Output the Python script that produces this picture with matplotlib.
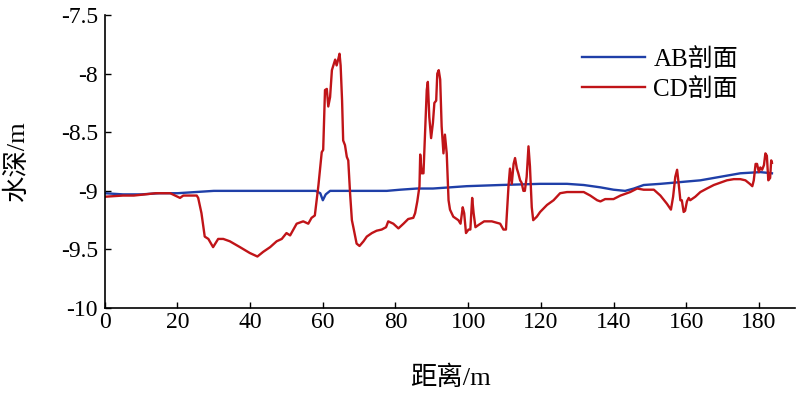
import matplotlib
matplotlib.use('Agg')
import matplotlib.pyplot as plt

plt.rcParams['font.family'] = ['Liberation Serif', 'Noto Sans CJK SC']
plt.rcParams['axes.unicode_minus'] = False

# AB剖面
ab_x = [0, 5, 10, 15, 20, 25, 30, 40, 50, 58, 59.3, 60, 60.8, 62, 67.5, 77.6,
        81.3, 85.9, 90.3, 99.6, 108.8, 119.8, 127.2, 131.8, 136.4, 140, 143.2,
        145.6, 148.3, 152.9, 156.6, 160.2, 163.9, 169.4, 174.9, 180.4, 183.6]
ab_y = [-9.02, -9.03, -9.03, -9.02, -9.02, -9.01, -9.0, -9.0, -9.0, -9.0, -9.02,
        -9.08, -9.03, -9.0, -9.0, -9.0, -8.99, -8.98, -8.98, -8.96, -8.95, -8.94,
        -8.94, -8.95, -8.97, -8.99, -9.0, -8.98, -8.95, -8.94, -8.93, -8.92, -8.91,
        -8.88, -8.85, -8.84, -8.85]

# CD剖面
cd_x = [0, 5, 8, 11, 14, 18, 20.7, 21.6, 25.3, 25.7, 26.6, 27.5, 28.5, 29.8,
        31.2, 32.6, 34.4, 37.2, 39.9, 42.0, 43.6, 45.5, 47.3, 48.7, 50, 51, 52.8,
        54.6, 56, 56.9, 57.8, 58.8, 59.7, 60.1, 60.6, 61.1, 61.5, 62, 62.5, 62.9,
        63.4, 63.8, 64.3, 64.6, 64.9, 65.3, 65.6, 66.1, 66.6, 67.0, 67.5, 68, 68.4,
        68.9, 69.3, 70.1, 71.2, 72.1, 73.5, 74.8, 76.2, 77.4, 78, 79.4, 80.8, 82.2,
        83.5, 84.9, 85.4, 86, 86.6, 86.8, 87.2, 87.7, 88.1, 88.6, 88.9, 89.3, 89.8,
        90.3, 90.7, 91.2, 91.5, 91.9, 92.3, 92.7, 93.2, 93.6, 94.1, 94.6, 95, 95.9,
        97.3, 97.9, 98.5, 98.9, 99.4, 100.1, 100.6, 101.1, 101.5, 102, 102.9, 104.4,
        106.5, 108.8, 109.7, 110.4, 111.1, 111.5, 112, 112.5, 112.9, 113.4, 113.8,
        114.3, 114.7, 115.2, 115.6, 116.1, 116.6, 117, 117.5, 117.9, 118.9, 119.8,
        121.7, 123.5, 125.3, 127.2, 129, 131.8, 133.6, 135.5, 136.4, 137.7, 140,
        141.9, 144.6, 146.5, 148.3, 151.1, 152.9, 154.7, 155.8, 156.4, 157, 157.5,
        157.9, 158.4, 158.8, 159.3, 159.7, 160.2, 160.7, 161.1, 162.5, 163.9, 165.7,
        167.6, 169.4, 171.2, 173.1, 174.9, 176.3, 177.5, 178.2, 178.6, 179.1, 179.5,
        180, 180.4, 180.9, 181.4, 181.8, 182.2, 182.6, 183.1, 183.4, 183.6]
cd_y = [-9.05, -9.04, -9.04, -9.03, -9.02, -9.02, -9.06, -9.04, -9.04, -9.06,
        -9.19, -9.39, -9.41, -9.48, -9.41, -9.41, -9.43, -9.48, -9.53, -9.56,
        -9.52, -9.48, -9.43, -9.41, -9.36, -9.38, -9.28, -9.26, -9.28, -9.23,
        -9.21, -8.95, -8.67, -8.65, -8.14, -8.13, -8.28, -8.2, -7.97, -7.93, -7.88,
        -7.93, -7.87, -7.83, -7.93, -8.23, -8.57, -8.61, -8.71, -8.74, -9.02, -9.25,
        -9.31, -9.39, -9.45, -9.47, -9.43, -9.39, -9.36, -9.34, -9.33, -9.31,
        -9.26, -9.28, -9.32, -9.28, -9.24, -9.23, -9.19, -9.09, -8.96, -8.69,
        -8.85, -8.85, -8.54, -8.14, -8.07, -8.37, -8.55, -8.42, -8.25, -8.23,
        -8.0, -7.97, -8.05, -8.45, -8.68, -8.52, -8.68, -9.08, -9.16, -9.22,
        -9.25, -9.28, -9.14, -9.19, -9.36, -9.33, -9.33, -9.06, -9.19, -9.31,
        -9.29, -9.26, -9.26, -9.28, -9.33, -9.33, -8.96, -8.81, -8.94, -8.77,
        -8.72, -8.81, -8.85, -8.91, -8.93, -9.0, -9.0, -8.88, -8.62, -8.79,
        -9.14, -9.25, -9.22, -9.18, -9.12, -9.08, -9.02, -9.01, -9.01, -9.01,
        -9.04, -9.08, -9.09, -9.07, -9.07, -9.04, -9.01, -8.98, -8.99, -8.99,
        -9.04, -9.11, -9.16, -9.05, -8.88, -8.82, -8.93, -9.08, -9.08, -9.18,
        -9.17, -9.09, -9.06, -9.08, -9.05, -9.01, -8.98, -8.95, -8.93, -8.91,
        -8.9, -8.9, -8.91, -8.94, -8.96, -8.91, -8.77, -8.77, -8.84, -8.8,
        -8.82, -8.78, -8.68, -8.7, -8.91, -8.89, -8.74, -8.76]

x_ticks = [0, 20, 40, 60, 80, 100, 120, 140, 160, 180]
y_ticks = [-10, -9.5, -9, -8.5, -8, -7.5]
y_tick_labels = ['-10', '-9.5', '-9', '-8.5', '-8', '-7.5']

fig = plt.figure(figsize=(8, 3.96), dpi=100)
ax = fig.add_axes([0.131, 0.222, 0.863, 0.74])

ax.plot(ab_x, ab_y, color='#1f3fa8', linewidth=1.7, label='AB剖面')
ax.plot(cd_x, cd_y, color='#c01418', linewidth=1.7, label='CD剖面')

ax.set_xlim(0, 190)
ax.set_ylim(-10, -7.5)
ax.set_xticks(x_ticks)
ax.set_yticks(y_ticks)
ax.set_yticklabels(y_tick_labels)
ax.tick_params(direction='in', length=4, width=1, labelsize=17)
ax.tick_params(axis='x', pad=3)
ax.tick_params(axis='y', pad=5)

ax.spines['top'].set_visible(False)
ax.spines['right'].set_visible(False)
ax.spines['left'].set_linewidth(1.2)
ax.spines['bottom'].set_linewidth(1.2)

ax.set_xlabel('距离/m', fontsize=19, labelpad=23)
ax.set_ylabel('水深/m', fontsize=19, labelpad=23)

ax.legend(loc='upper right', bbox_to_anchor=(0.95, 0.965), frameon=False,
          fontsize=18, handlelength=2.5, handletextpad=0.35, labelspacing=0.3)

fig.savefig('out.png', dpi=100)
